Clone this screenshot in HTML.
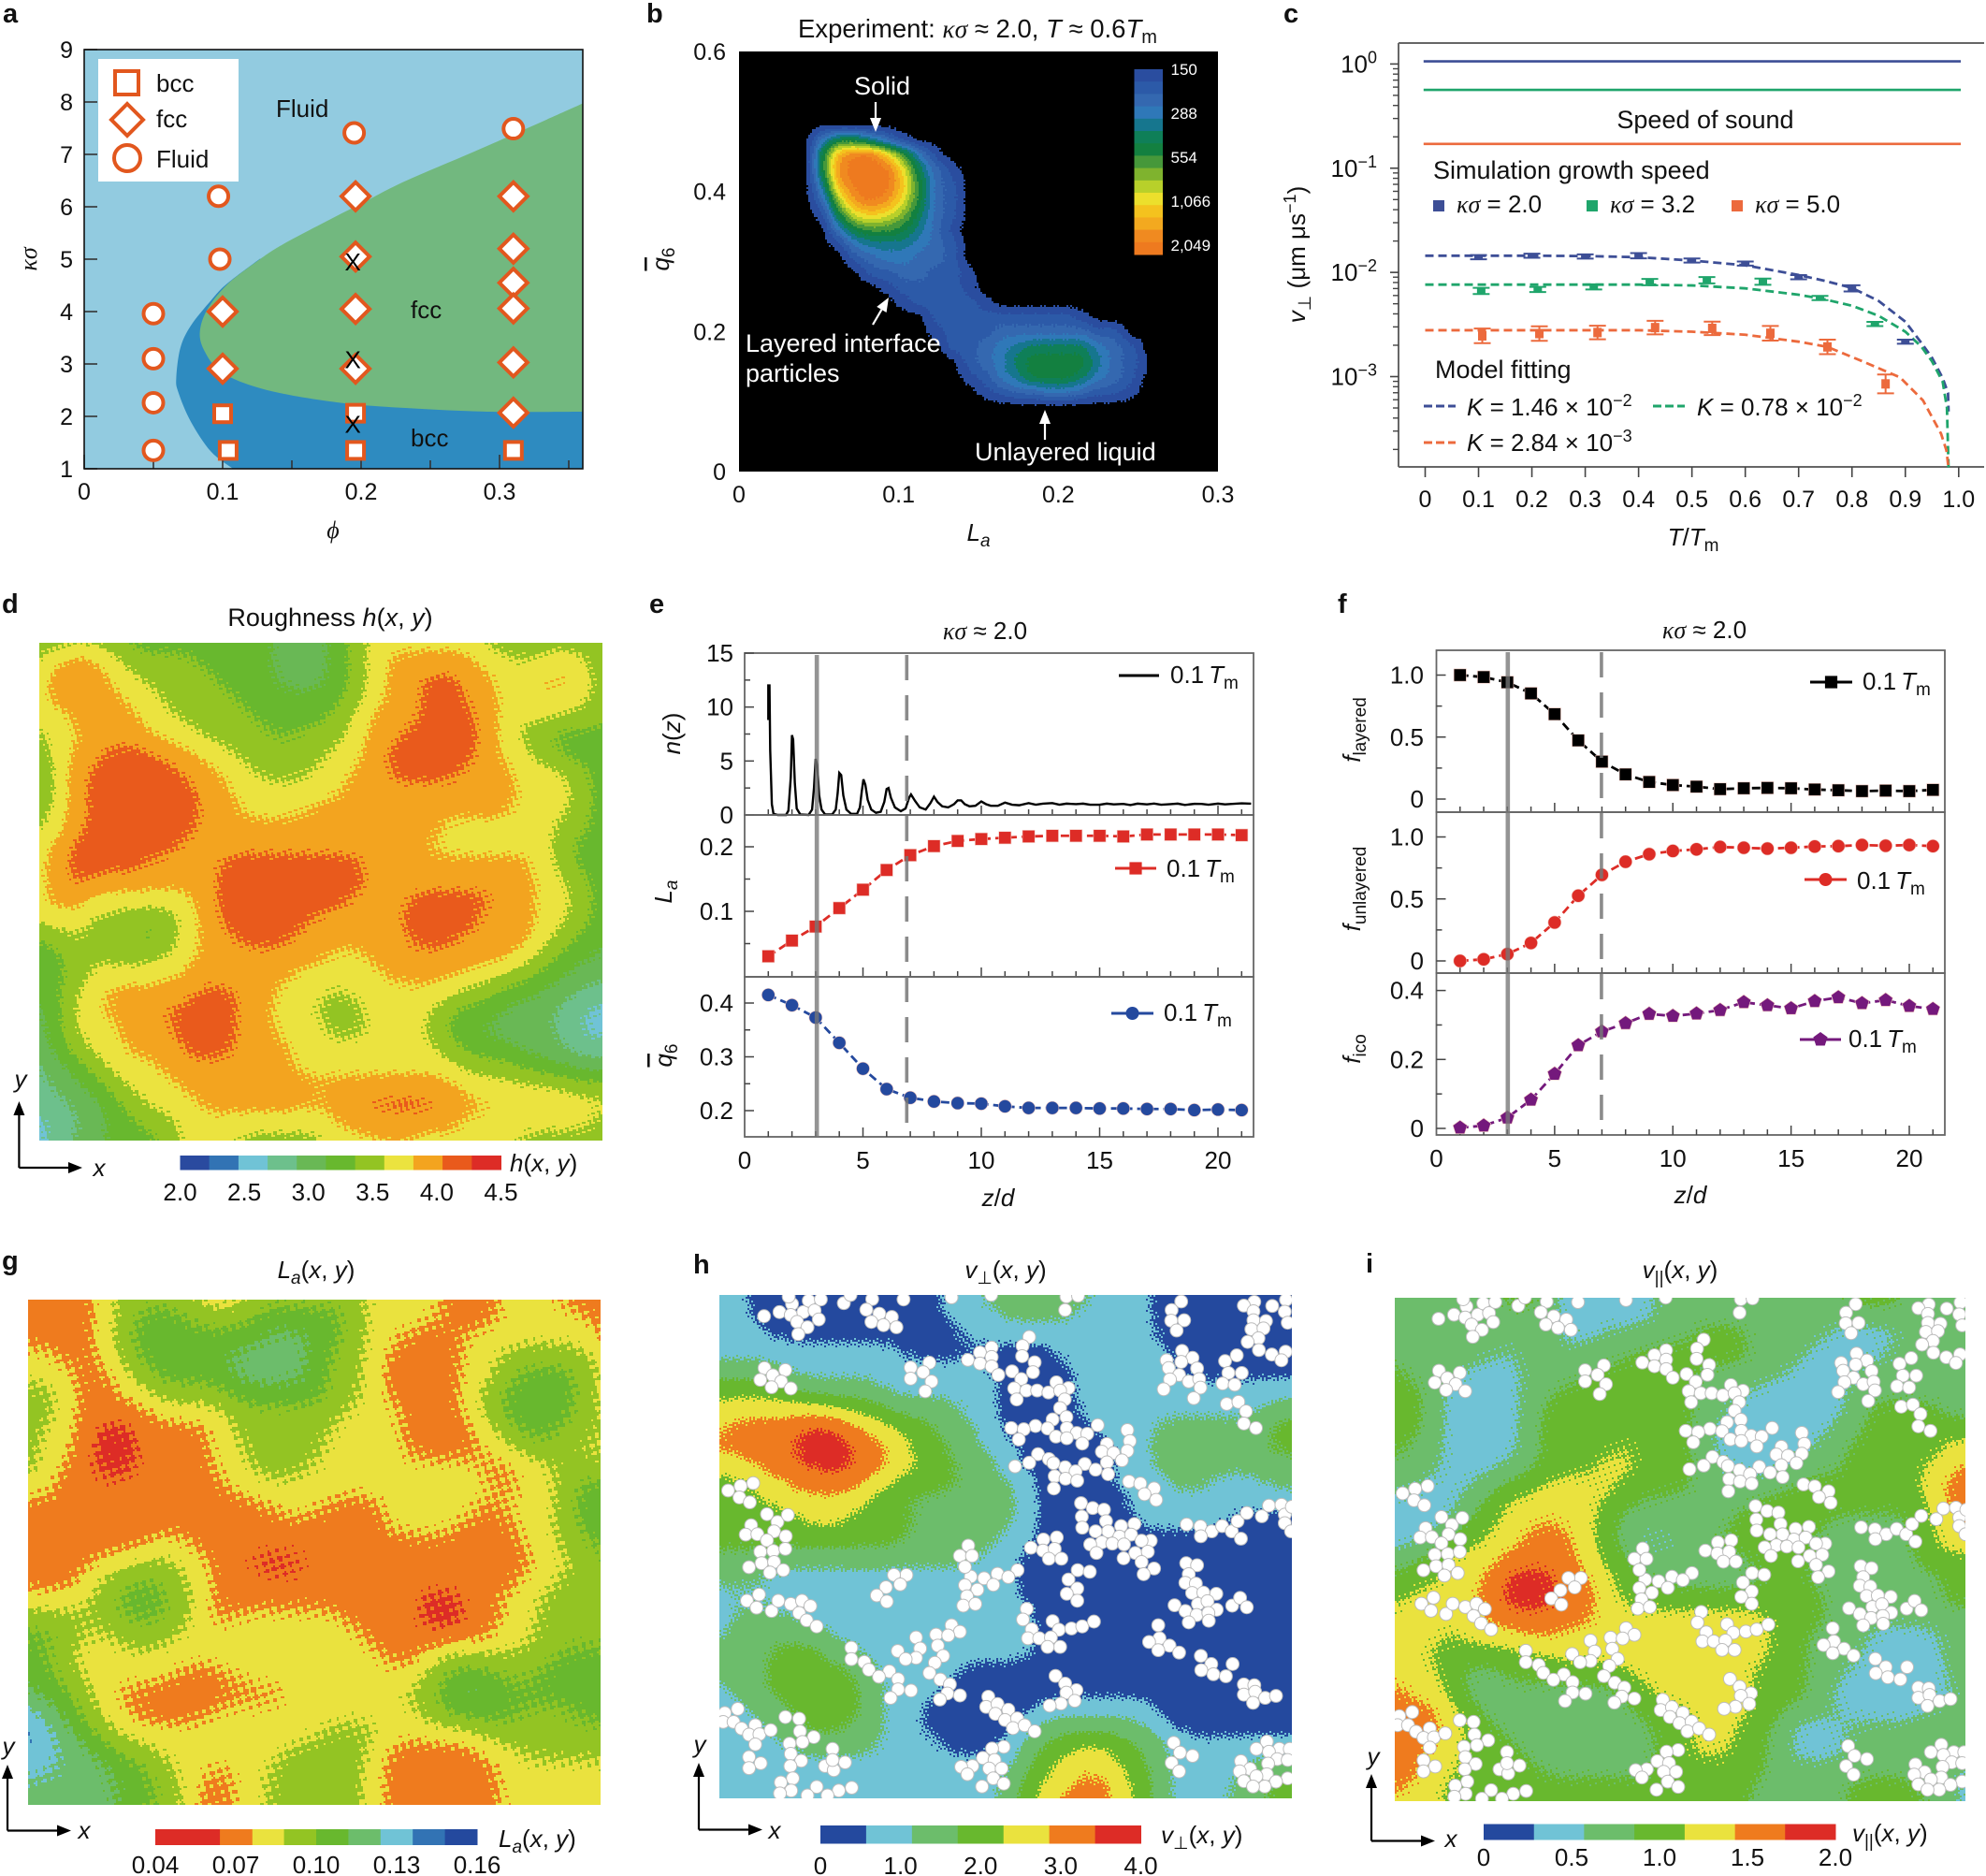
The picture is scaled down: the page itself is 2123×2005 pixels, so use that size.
<!DOCTYPE html>
<html lang="en">
<head>
<meta charset="utf-8">
<title>Interface structure and growth panels</title>
<style>
html,body{margin:0;padding:0;background:#fff;width:2123px;height:2005px;overflow:hidden}
svg{display:block;font-family:"Liberation Sans",sans-serif;fill:#111}
.it{font-style:italic}
.gr{font-family:"Liberation Serif",serif;font-style:italic}
.pl{font-weight:bold;font-size:29px}
.t26{font-size:26px}
.wh{fill:#fff}
</style>
</head>
<body>
<svg xmlns="http://www.w3.org/2000/svg" width="2123" height="2005" viewBox="0 0 2123 2005">
<defs>
<clipPath id="clip-h"><rect x="769" y="1384" width="612" height="538"/></clipPath>
<clipPath id="clip-i"><rect x="1491" y="1387" width="610" height="538"/></clipPath>
</defs>

<g>
<g id="a-marks"></g>
<rect x="105" y="63" width="150" height="131" fill="#fff"/>
<rect x="123" y="76" width="25" height="25" fill="#fff" stroke="#e2571e" stroke-width="4"/>
<polygon points="136,111 153,128 136,145 119,128" fill="#fff" stroke="#e2571e" stroke-width="4"/>
<circle cx="136" cy="169" r="14" fill="#fff" stroke="#e2571e" stroke-width="4"/>
<text x="167" y="98" class="t26">bcc</text>
<text x="167" y="136" class="t26">fcc</text>
<text x="167" y="179" class="t26">Fluid</text>
<text x="295" y="125" class="t26">Fluid</text>
<text x="439" y="340" class="t26">fcc</text>
<text x="439" y="477" class="t26">bcc</text>
<text x="356" y="575" text-anchor="middle" class="gr t26">ϕ</text>
<text x="39" y="277" text-anchor="middle" transform="rotate(-90 39 277)" class="gr t26">κσ</text>
<text x="3" y="24" class="pl">a</text>
</g>

<g>
<rect x="790" y="55" width="512" height="449" fill="#000"/>
<g id="b-marks"></g>
<text x="853" y="40" font-size="27.5">Experiment: <tspan class="gr">κσ</tspan> ≈ 2.0, <tspan class="it">T</tspan> ≈ 0.6<tspan class="it">T</tspan><tspan font-size="20" dy="6">m</tspan></text>
<text x="913" y="101" class="wh" font-size="27">Solid</text>
<text x="797" y="376" class="wh" font-size="27">Layered interface</text>
<text x="797" y="408" class="wh" font-size="27">particles</text>
<text x="1042" y="492" class="wh" font-size="27">Unlayered liquid</text>
<text x="1046" y="578" text-anchor="middle" class="t26"><tspan class="it">L</tspan><tspan class="it" font-size="19" dy="6">a</tspan></text>
<text x="715" y="277" text-anchor="middle" transform="rotate(-90 715 277)" class="t26"><tspan class="it" style="text-decoration:overline">q</tspan><tspan font-size="19" dy="6">6</tspan></text>
<text x="691" y="24" class="pl">b</text>
</g>

<g>
<g id="c-marks"></g>
<text x="1823" y="137" text-anchor="middle" font-size="27">Speed of sound</text>
<text x="1532" y="191" font-size="27">Simulation growth speed</text>
<text x="1557" y="227" class="t26"><tspan class="gr">κσ</tspan> = 2.0</text>
<text x="1721" y="227" class="t26"><tspan class="gr">κσ</tspan> = 3.2</text>
<text x="1876" y="227" class="t26"><tspan class="gr">κσ</tspan> = 5.0</text>
<rect x="1532" y="214" width="12" height="12" fill="#3d4e96"/>
<rect x="1696" y="214" width="12" height="12" fill="#1fa56b"/>
<rect x="1851" y="214" width="12" height="12" fill="#ec6a3d"/>
<text x="1534" y="404" font-size="27">Model fitting</text>
<line x1="1522" y1="434" x2="1556" y2="434" stroke="#3d4e96" stroke-width="3" stroke-dasharray="9 4"/>
<line x1="1767" y1="434" x2="1801" y2="434" stroke="#1fa56b" stroke-width="3" stroke-dasharray="9 4"/>
<line x1="1522" y1="473" x2="1556" y2="473" stroke="#ec6a3d" stroke-width="3" stroke-dasharray="9 4"/>
<text x="1568" y="444" class="t26"><tspan class="it">K</tspan> = 1.46 × 10<tspan font-size="18" dy="-10">−2</tspan></text>
<text x="1814" y="444" class="t26"><tspan class="it">K</tspan> = 0.78 × 10<tspan font-size="18" dy="-10">−2</tspan></text>
<text x="1568" y="482" class="t26"><tspan class="it">K</tspan> = 2.84 × 10<tspan font-size="18" dy="-10">−3</tspan></text>
<text x="1810" y="583" text-anchor="middle" class="t26"><tspan class="it">T</tspan>/<tspan class="it">T</tspan><tspan font-size="19" dy="6">m</tspan></text>
<text x="1395" y="272" text-anchor="middle" transform="rotate(-90 1395 272)" class="t26"><tspan class="it">v</tspan><tspan font-size="19" dy="6">⊥</tspan><tspan dy="-6"> (μm μs</tspan><tspan font-size="18" dy="-10">−1</tspan><tspan dy="10">)</tspan></text>
<text x="1372" y="24" class="pl">c</text>
</g>

<g>
<g id="d-marks"></g>
<text x="353" y="669" text-anchor="middle" font-size="27">Roughness <tspan class="it">h</tspan>(<tspan class="it">x</tspan>, <tspan class="it">y</tspan>)</text>
<text x="545" y="1252" class="t26"><tspan class="it">h</tspan>(<tspan class="it">x</tspan>, <tspan class="it">y</tspan>)</text>
<text x="22" y="1162" text-anchor="middle" class="it t26">y</text>
<text x="106" y="1257" text-anchor="middle" class="it t26">x</text>
<text x="2" y="655" class="pl">d</text>
</g>

<g>
<g id="e-marks"></g>
<text x="1053" y="683" text-anchor="middle" class="t26"><tspan class="gr">κσ</tspan> ≈ 2.0</text>
<text x="1067" y="1289" text-anchor="middle" class="t26"><tspan class="it">z</tspan>/<tspan class="it">d</tspan></text>
<text x="727" y="784" text-anchor="middle" transform="rotate(-90 727 784)" class="t26"><tspan class="it">n</tspan>(<tspan class="it">z</tspan>)</text>
<text x="718" y="953" text-anchor="middle" transform="rotate(-90 718 953)" class="t26"><tspan class="it">L</tspan><tspan class="it" font-size="19" dy="6">a</tspan></text>
<text x="718" y="1128" text-anchor="middle" transform="rotate(-90 718 1128)" class="t26"><tspan class="it" style="text-decoration:overline">q</tspan><tspan font-size="19" dy="6">6</tspan></text>
<text x="1251" y="730" class="t26">0.1<tspan class="it" dx="5">T</tspan><tspan font-size="19" dy="6">m</tspan></text>
<text x="1247" y="937" class="t26">0.1<tspan class="it" dx="5">T</tspan><tspan font-size="19" dy="6">m</tspan></text>
<text x="1244" y="1091" class="t26">0.1<tspan class="it" dx="5">T</tspan><tspan font-size="19" dy="6">m</tspan></text>
<text x="694" y="655" class="pl">e</text>
</g>

<g>
<g id="f-marks"></g>
<text x="1822" y="682" text-anchor="middle" class="t26"><tspan class="gr">κσ</tspan> ≈ 2.0</text>
<text x="1807" y="1286" text-anchor="middle" class="t26"><tspan class="it">z</tspan>/<tspan class="it">d</tspan></text>
<text x="1454" y="780" text-anchor="middle" transform="rotate(-90 1454 780)" class="t26"><tspan class="it">f</tspan><tspan font-size="19" dy="6">layered</tspan></text>
<text x="1454" y="950" text-anchor="middle" transform="rotate(-90 1454 950)" class="t26"><tspan class="it">f</tspan><tspan font-size="19" dy="6">unlayered</tspan></text>
<text x="1454" y="1121" text-anchor="middle" transform="rotate(-90 1454 1121)" class="t26"><tspan class="it">f</tspan><tspan font-size="19" dy="6">ico</tspan></text>
<text x="1991" y="737" class="t26">0.1<tspan class="it" dx="5">T</tspan><tspan font-size="19" dy="6">m</tspan></text>
<text x="1985" y="950" class="t26">0.1<tspan class="it" dx="5">T</tspan><tspan font-size="19" dy="6">m</tspan></text>
<text x="1976" y="1119" class="t26">0.1<tspan class="it" dx="5">T</tspan><tspan font-size="19" dy="6">m</tspan></text>
<text x="1430" y="655" class="pl">f</text>
</g>

<g>
<g id="g-marks"></g>
<text x="338" y="1366" text-anchor="middle" class="t26"><tspan class="it">L</tspan><tspan class="it" font-size="19" dy="6">a</tspan><tspan dy="-6">(</tspan><tspan class="it">x</tspan>, <tspan class="it">y</tspan>)</text>
<text x="533" y="1974" class="t26"><tspan class="it">L</tspan><tspan class="it" font-size="19" dy="6">a</tspan><tspan dy="-6">(</tspan><tspan class="it">x</tspan>, <tspan class="it">y</tspan>)</text>
<text x="9" y="1875" text-anchor="middle" class="it t26">y</text>
<text x="90" y="1965" text-anchor="middle" class="it t26">x</text>
<text x="2" y="1357" class="pl">g</text>
</g>

<g>
<g id="h-marks"></g>
<text x="1075" y="1366" text-anchor="middle" class="t26"><tspan class="it">v</tspan><tspan font-size="19" dy="6">⊥</tspan><tspan dy="-6">(</tspan><tspan class="it">x</tspan>, <tspan class="it">y</tspan>)</text>
<text x="1241" y="1970" class="t26"><tspan class="it">v</tspan><tspan font-size="19" dy="6">⊥</tspan><tspan dy="-6">(</tspan><tspan class="it">x</tspan>, <tspan class="it">y</tspan>)</text>
<text x="748" y="1873" text-anchor="middle" class="it t26">y</text>
<text x="828" y="1965" text-anchor="middle" class="it t26">x</text>
<text x="741" y="1361" class="pl">h</text>
</g>

<g>
<g id="i-marks"></g>
<text x="1796" y="1366" text-anchor="middle" class="t26"><tspan class="it">v</tspan><tspan font-size="19" dy="6">||</tspan><tspan dy="-6">(</tspan><tspan class="it">x</tspan>, <tspan class="it">y</tspan>)</text>
<text x="1980" y="1968" class="t26"><tspan class="it">v</tspan><tspan font-size="19" dy="6">||</tspan><tspan dy="-6">(</tspan><tspan class="it">x</tspan>, <tspan class="it">y</tspan>)</text>
<text x="1468" y="1886" text-anchor="middle" class="it t26">y</text>
<text x="1551" y="1974" text-anchor="middle" class="it t26">x</text>
<text x="1460" y="1360" class="pl">i</text>
</g>
</svg>

<script>
/* ---------- panel a data ---------- */
const phiTicks=[0,0.1,0.2,0.3];
const phiTickLabels=["0","0.1","0.2","0.3"];
const phiMinorTicks=[0.05,0.15,0.25,0.35];
const kappaTicks=[1,2,3,4,5,6,7,8,9];
const fccPhi=[0.36,0.291,0.232,0.203,0.174,0.144,0.127,0.103,0.0885,0.0835,0.087,0.097,0.115,0.144,0.188,0.232,0.291,0.36];
const fccKappa=[7.97,7.16,6.49,6.10,5.71,5.29,5.00,4.51,4.02,3.59,3.24,2.89,2.64,2.43,2.25,2.16,2.09,2.09];
const bccPhi=[0.127,0.103,0.0915,0.077,0.0695,0.0665,0.068,0.077,0.0915,0.1075];
const bccKappa=[5.01,4.53,4.21,3.73,3.31,2.74,2.46,1.90,1.33,1.0];
const fluidPhi=[0.05,0.05,0.05,0.05,0.097,0.098,0.195,0.31];
const fluidKappa=[3.96,3.10,2.26,1.35,6.20,5.00,7.41,7.49];
const fccPointPhi=[0.10,0.10,0.196,0.196,0.196,0.196,0.31,0.31,0.31,0.31,0.31,0.31];
const fccPointKappa=[4.00,2.91,6.20,5.05,4.05,2.91,6.20,5.20,4.55,4.06,3.03,2.07];
const bccPointPhi=[0.10,0.104,0.196,0.196,0.31];
const bccPointKappa=[2.05,1.35,2.06,1.35,1.35];
const crossPhi=[0.194,0.194,0.194];
const crossKappa=[4.95,3.08,1.85];

/* ---------- panel b data ---------- */
const laTicks=[0,0.1,0.2,0.3];
const laTickLabels=["0","0.1","0.2","0.3"];
const q6Ticks=[0,0.2,0.4,0.6];
const q6TickLabels=["0","0.2","0.4","0.6"];
const densityColors=["#000000","#2a4d9f","#2c5aa8","#3468b0","#2f78b8","#16768e","#0f7f58","#138040","#46983a","#7fb32e","#b8d02a","#ecdf2c","#f4c21e","#f3a91f","#f08a20","#ee7a1f"];
const densityLabels=["150","288","554","1,066","2,049"];
const densityGrid=[
"0000000000000000000000",
"0477531000000000000000",
"07dffc8410000000000000",
"07efffb631000000000000",
"05dfffc732000000000000",
"03aefeb732000000000000",
"017bcb9632000000000000",
"0047887531000000000000",
"0014555432000000000000",
"0002344332000000000000",
"0000223322100000000000",
"0000012222100000000000",
"0000001222210000000000",
"0000000022222222210000",
"0000000012223333332200",
"0000000002234566664320",
"0000000000234677775321",
"0000000000124577764320",
"0000000000012334432210",
"0000000000000000000000"];

/* ---------- panel c data ---------- */
const tempTicks=[0,0.1,0.2,0.3,0.4,0.5,0.6,0.7,0.8,0.9,1.0];
const tempTickLabels=["0","0.1","0.2","0.3","0.4","0.5","0.6","0.7","0.8","0.9","1.0"];
const logSpeedTicks=[0,-1,-2,-3];
const soundSpeeds=[1.06,0.565,0.171];
const blueT=[0.1,0.2,0.3,0.4,0.5,0.6,0.7,0.8,0.9];
const blueLogV=[-1.854,-1.84,-1.847,-1.84,-1.886,-1.915,-2.046,-2.153,-2.665];
const blueErr=[0.02,0.02,0.02,0.025,0.02,0.02,0.02,0.03,0.02];
const greenT=[0.105,0.211,0.316,0.421,0.528,0.633,0.74,0.843];
const greenLogV=[-2.178,-2.164,-2.139,-2.093,-2.075,-2.089,-2.246,-2.495];
const greenErr=[0.03,0.025,0.025,0.03,0.03,0.03,0.02,0.02];
const orangeT=[0.107,0.214,0.323,0.431,0.538,0.647,0.754,0.863];
const orangeLogV=[-2.609,-2.587,-2.577,-2.53,-2.537,-2.584,-2.715,-3.07];
const orangeErr=[0.07,0.07,0.065,0.065,0.065,0.07,0.07,0.09];
const blueFitT=[0,0.1,0.2,0.3,0.4,0.5,0.6,0.7,0.75,0.8,0.85,0.9,0.93,0.95,0.97,0.98,0.981];
const blueFitLog=[-1.84,-1.84,-1.84,-1.843,-1.854,-1.886,-1.932,-2.025,-2.082,-2.149,-2.274,-2.473,-2.676,-2.819,-3.014,-3.157,-3.335];
const greenFitT=[0,0.1,0.2,0.3,0.4,0.5,0.6,0.7,0.75,0.8,0.85,0.9,0.93,0.95,0.97,0.978,0.981];
const greenFitLog=[-2.117,-2.117,-2.117,-2.117,-2.117,-2.125,-2.153,-2.214,-2.26,-2.32,-2.416,-2.569,-2.712,-2.854,-3.05,-3.299,-3.879];
const orangeFitT=[0,0.1,0.2,0.3,0.4,0.5,0.6,0.7,0.754,0.82,0.89,0.933,0.967,0.977,0.981];
const orangeFitLog=[-2.555,-2.555,-2.555,-2.555,-2.555,-2.569,-2.598,-2.665,-2.715,-2.854,-3.007,-3.228,-3.548,-3.708,-3.879];

/* ---------- panels e, f data ---------- */
const layerZ=[1,2,3,4,5,6,7,8,9,10,11,12,13,14,15,16,17,18,19,20,21];
const zTicks=[0,5,10,15,20];
const zTickLabels=["0","5","10","15","20"];
const nzZ=[1.0,1.0,1.05,1.08,1.15,1.22,1.4,1.75,1.85,1.95,2.0,2.05,2.12,2.2,2.35,2.7,2.85,2.93,3.0,3.07,3.15,3.25,3.4,3.7,3.85,3.93,4.0,4.08,4.17,4.3,4.5,4.75,4.87,4.95,5.02,5.1,5.2,5.35,5.55,5.75,5.9,6.0,6.08,6.18,6.35,6.6,6.8,6.95,7.03,7.2,7.4,7.65,7.85,8.0,8.15,8.35,8.6,8.85,9.0,9.15,9.3,9.5,9.75,10,10.2,10.4,10.7,11,11.3,11.6,12,12.3,12.6,13,13.3,13.6,14,14.3,14.6,15,15.3,15.6,16,16.3,16.6,17,17.3,17.6,18,18.3,18.6,19,19.3,19.6,20,20.3,20.6,21,21.4];
const nzN=[8.8,12,12,6,1,0.1,0,0,0.4,3.5,7.4,7,3,0.6,0.05,0,0.5,2.5,5.2,4.6,1.8,0.5,0.05,0.05,0.5,2,3.9,3.7,1.8,0.5,0.1,0.1,0.7,2.2,3.3,2.8,1.4,0.5,0.2,0.3,1.2,2.4,2.5,1.6,0.7,0.35,0.6,1.6,1.9,1.3,0.7,0.5,1.1,1.7,1.2,0.8,0.7,1,1.35,1.35,1,0.8,0.85,1.25,1,0.85,0.85,1.15,0.95,0.9,1.1,0.95,1.05,1.1,0.95,1.05,1,1.05,0.95,0.95,1.05,0.98,1.02,0.92,1.05,0.98,1.06,0.95,1,1.05,0.93,1.03,1.02,0.95,1.05,0.98,1.02,1.08,1.05];
const nzTicks=[0,5,10,15];
const nzTickLabels=["0","5","10","15"];
const nzMinor=[2.5,7.5,12.5];
const laValues=[0.0304,0.0547,0.0764,0.105,0.1335,0.164,0.187,0.201,0.209,0.212,0.214,0.216,0.217,0.217,0.217,0.216,0.219,0.219,0.219,0.219,0.218];
const laSeriesTicks=[0.1,0.2];
const laSeriesLabels=["0.1","0.2"];
const laMinor=[0.05,0.15];
const q6Values=[0.415,0.396,0.373,0.326,0.278,0.24,0.224,0.217,0.214,0.213,0.208,0.205,0.205,0.205,0.204,0.204,0.203,0.203,0.201,0.202,0.201];
const q6SeriesTicks=[0.2,0.3,0.4];
const q6SeriesLabels=["0.2","0.3","0.4"];
const q6Minor=[0.25,0.35];
const fLayered=[1.0,0.984,0.942,0.852,0.685,0.473,0.302,0.199,0.138,0.113,0.1,0.08,0.087,0.09,0.087,0.077,0.071,0.064,0.068,0.064,0.074];
const fUnlayered=[0,0.013,0.055,0.145,0.31,0.526,0.694,0.8,0.861,0.887,0.9,0.919,0.913,0.906,0.913,0.923,0.926,0.935,0.929,0.935,0.926];
const fIco=[0.002,0.008,0.031,0.083,0.158,0.241,0.281,0.305,0.332,0.326,0.333,0.343,0.366,0.357,0.348,0.369,0.38,0.363,0.372,0.355,0.346];
const fracTicks=[0,0.5,1.0];
const fracTickLabels=["0","0.5","1.0"];
const fracMinor=[0.25,0.75];
const icoTicks=[0,0.2,0.4];
const icoTickLabels=["0","0.2","0.4"];
const icoMinor=[0.1,0.3];

/* ---------- heatmap contour levels ---------- */
const bandD=["#2a4a9f","#3273b4","#70c3d6","#6dc08c","#69b855","#68b82e","#93c423","#ebe33f","#f3a41f","#e95a1c","#dd2c26"];
const bandG=["#dd2c26","#ef7b1e","#eae23e","#93c423","#68b82e","#6cbd6b","#70c3d6","#3273b4","#24499e"];
const bandV=["#24499e","#70c3d6","#6cbd6b","#68b82e","#eae23e","#ef7b1e","#dd2c26"];
const roughnessLevels=[
"6666655555555444567777776666666",
"6888766665555444567888887767776",
"7898776666555444567889988778876",
"7888877666655555567889988777776",
"7788887766665555678889998777766",
"6778887776666566678899998765555",
"6788999887766666778999998776555",
"5789999988776667788999988877765",
"5789999998877777788888888877765",
"6789999998877778888888888877765",
"6789999998888888888888777777665",
"7899999988888888888887777777655",
"7899998888999999998888888887655",
"7898888888999999998888888887765",
"7887777778999999988899999887765",
"7776665678999998888899998887765",
"5676665678899988888899988887655",
"5566666778888888778888888876554",
"5567777788888877777888877665544",
"5577888889988777677777766554433",
"4577888999988776667777555444332",
"4577788899988777667776554444322",
"4567788899988877777777655544433",
"3456777888888877777777766655444",
"3445677788888888888888877777766",
"3344567778888887889999888777777",
"2334556677777777888888877777776",
"2344555677766666777877777766666"];
const laLevels=[
"1111233332223333332222111222111",
"1111234443334444432222111222221",
"1111234444444554432211122222221",
"2211234444455554332111122333332",
"2221123444455554332111122344432",
"3321122333344444332111123444432",
"3321111222233333322211123444432",
"3221001111233333222211112344333",
"3221001111223333222211112233322",
"3211001111223332222222221122333",
"2211111111122222222222222122344",
"1111111111111222111222221222344",
"1111111111111111111222211122344",
"1111111221111111111111111122334",
"1111223322110001111111111112233",
"1112334332111111111111111122333",
"2222344432111111111110011223333",
"3333334332122222211110011223333",
"4432233322222222221111111223333",
"4332222222222222222112333333444",
"4432222211122222222223444334444",
"5443211111111122222233454444444",
"6543221111222222222223444433344",
"7654322222222222333222223333333",
"6655433222222233332111112233333",
"6655544322122333332111111222222",
"5555544331122333332111111222222",
"5555544331122333332111111222222"];
const vPerpLevels=[
"1100000000001122222211100000000",
"1100000000001112222111100000000",
"1110000000000111111111100000000",
"1111111111000000001111110000000",
"2222111111111110000111110000000",
"3333222221111110000111111111111",
"4444443332222110000111111111122",
"4555566544332210000011122222233",
"5555666554332211000001122222233",
"4455566655433221000001122222222",
"3344555543333222100001112211122",
"3334444433222222100000111111111",
"3333344333322222100000111110000",
"3333333333222221100000000000000",
"2222222222222211000000000000000",
"2221111111111111000000000000000",
"1111111111111111000000000000000",
"1222111111111111100000000000000",
"1222221111111111100000000000000",
"2223332211111111100000000000000",
"2223333221111000000000000000000",
"1223333321110000000000000000000",
"1122333321100000011111100000000",
"1112233221100000122222210000000",
"1111222221110001233443221111111",
"1111111111111111234443321111222",
"1111111111111112344554321112233",
"1111111111111112345554321112233"];
const vParallelLevels=[
"2222223321111122222222223332222",
"2222222221111122222222222222222",
"2222222221122222333222211112222",
"2222221222222333333222111122222",
"3222111222233333222221112222222",
"3321111223333333222111112222222",
"3321111233333333221111112333322",
"3321111233333333211111122333333",
"3221111233334333211111223333344",
"2221112233344333221112223333445",
"2211223344443333222223333333455",
"1111234444433222222333333333455",
"1112334454432222223333322222345",
"1123344555432112233333222223444",
"2334445555433222222333222222333",
"3334456665543322222233222222233",
"3444456665543333333333322222233",
"4444455555544444444433322222222",
"4443444554444444444433222111122",
"4433333334444444444433222111122",
"4443223333333444444333221111122",
"5443222222223344444333211111112",
"5554322222222333444332221111222",
"5554332222222233443321112222222",
"5544333222222233443321112222222",
"5544333322222233333322222222221",
"5443333333333333333222223333221",
"4443333333333333333222223333221"];

/* panels h and i show the same interface particles, in simulation-box units */
const interfaceParticles=[[216,198],[253,188],[283,168],[280,195],[310,188],[323,160],[337,184],[347,206],[295,212],[320,225],[298,242],[352,157],[275,150],[407,166],[423,146],[475,156],[550,157],[461,182],[492,192],[522,200],[473,212],[502,220],[533,225],[665,152],[760,146],[937,183],[940,150],[968,148],[1215,162],[1192,183],[1222,208],[1191,209],[1204,233],[1390,163],[1365,172],[1433,173],[1466,158],[1388,186],[1463,187],[1388,208],[1418,210],[1470,214],[1383,230],[1412,228],[1400,252],[1374,261],[1401,281],[1432,292],[1465,285],[1455,306],[851,249],[835,271],[761,275],[733,287],[834,296],[704,305],[733,314],[761,298],[761,321],[864,311],[777,342],[810,333],[860,335],[832,352],[815,375],[844,380],[870,380],[897,385],[916,360],[945,374],[925,380],[821,402],[936,402],[217,325],[267,330],[237,343],[207,354],[257,358],[234,372],[280,375],[612,312],[567,324],[597,335],[567,351],[617,358],[602,382],[1217,283],[1242,300],[1215,310],[1180,306],[1348,294],[1320,308],[1185,325],[1253,326],[1210,342],[1188,353],[1328,337],[1360,337],[1233,358],[1258,352],[1173,377],[1314,363],[1343,366],[1261,373],[1245,399],[1324,413],[1352,408],[1370,431],[1365,461],[1394,472],[925,423],[907,451],[940,445],[808,472],[866,467],[838,475],[895,473],[941,472],[1015,465],[1086,477],[965,484],[990,486],[915,493],[941,497],[826,500],[978,510],[1092,504],[1037,511],[1025,530],[1053,533],[1086,528],[1073,551],[872,536],[851,557],[898,548],[817,566],[984,560],[937,568],[909,558],[962,578],[1010,574],[1037,556],[912,590],[938,596],[966,601],[1040,585],[910,620],[1090,603],[1117,608],[1150,620],[1127,634],[1155,648],[975,656],[1003,668],[1030,672],[977,689],[1035,700],[1103,707],[1071,712],[978,716],[1040,725],[1010,725],[1067,738],[1095,733],[1142,748],[1120,748],[1025,752],[1050,755],[997,757],[1078,757],[1012,778],[1105,778],[1135,775],[1077,791],[1120,800],[1150,816],[1125,830],[1228,708],[1261,713],[1288,725],[1313,712],[1336,725],[1350,700],[1372,680],[1408,688],[1425,662],[1455,660],[1463,684],[1463,705],[1262,737],[1358,743],[1480,665],[1478,725],[223,683],[248,702],[273,685],[185,710],[240,725],[172,733],[200,732],[223,747],[268,737],[207,775],[238,773],[267,768],[210,803],[240,800],[180,813],[230,826],[262,820],[190,607],[160,614],[130,625],[157,642],[182,654],[917,740],[885,745],[855,765],[884,772],[912,768],[898,792],[928,792],[705,760],[685,785],[714,785],[711,836],[697,812],[743,840],[775,829],[823,820],[801,837],[765,856],[697,857],[727,868],[702,884],[693,907],[722,903],[557,832],[527,832],[542,855],[508,862],[486,882],[510,897],[967,820],[996,824],[945,843],[966,865],[941,878],[966,895],[1227,803],[1253,808],[1233,830],[1225,851],[1250,853],[1241,876],[1268,875],[1299,878],[1255,903],[1278,896],[1300,917],[1199,906],[1225,920],[1252,930],[1280,925],[1233,948],[1281,944],[1337,907],[1356,888],[1372,911],[175,895],[204,880],[198,912],[234,920],[250,895],[280,903],[307,895],[327,908],[300,925],[318,943],[342,958],[845,915],[836,941],[907,945],[857,965],[922,966],[952,963],[978,958],[1006,946],[1160,955],[848,987],[875,987],[903,985],[925,1008],[895,1008],[1163,987],[1138,996],[1187,1005],[1160,1016],[1210,1022],[665,955],[685,971],[628,978],[657,980],[580,985],[632,1005],[590,1012],[536,1018],[645,1030],[580,1035],[555,1038],[625,1047],[612,1072],[638,1088],[425,1010],[425,1038],[456,1045],[467,1064],[516,1068],[491,1081],[537,1087],[537,1112],[519,1133],[568,1115],[1262,1030],[1287,1050],[1338,1050],[1263,1065],[1292,1075],[1322,1080],[914,1079],[937,1098],[964,1114],[940,1120],[661,1100],[655,1122],[685,1127],[637,1137],[960,1140],[927,1147],[900,1152],[1365,1100],[1390,1102],[1365,1125],[1392,1118],[1416,1133],[1442,1128],[1387,1145],[753,1130],[748,1155],[775,1148],[770,1172],[801,1162],[793,1187],[822,1183],[812,1207],[840,1200],[864,1215],[122,1170],[153,1160],[118,1192],[143,1192],[162,1208],[195,1200],[180,1223],[205,1222],[232,1212],[267,1180],[300,1184],[302,1215],[335,1229],[308,1241],[195,1247],[1197,1243],[1212,1267],[1242,1275],[1192,1292],[1210,1313],[1420,1240],[1395,1258],[1450,1258],[1425,1265],[1475,1258],[1445,1283],[1470,1285],[1358,1288],[1423,1294],[1380,1307],[1355,1313],[1420,1320],[1395,1325],[1365,1337],[1470,1330],[1442,1338],[1415,1350],[1387,1350],[790,1253],[762,1257],[740,1280],[768,1285],[715,1300],[688,1302],[755,1306],[785,1306],[703,1320],[765,1330],[790,1343],[738,1350],[277,1245],[180,1278],[280,1270],[305,1287],[208,1293],[180,1305],[380,1258],[362,1300],[383,1310],[410,1291],[380,1285],[279,1300],[285,1330],[256,1340],[281,1360],[254,1367],[342,1351],[395,1360],[426,1353],[320,1372],[368,1372]];

const dTickValues=[2.0,2.5,3.0,3.5,4.0,4.5];
const dTickLabels=["2.0","2.5","3.0","3.5","4.0","4.5"];
const dBandEdges=[2.0,2.227,2.455,2.682,2.909,3.136,3.364,3.591,3.818,4.045,4.273,4.5];
const gTickValues=[0.04,0.07,0.10,0.13,0.16];
const gTickLabels=["0.04","0.07","0.10","0.13","0.16"];
const gBandEdges=[0.04,0.0641,0.0762,0.088,0.1,0.112,0.124,0.136,0.148,0.16];
const hTickValues=[0,1,2,3,4];
const hTickLabels=["0","1.0","2.0","3.0","4.0"];
const hBandEdges=[0,0.571,1.143,1.714,2.286,2.857,3.429,4];
const iTickValues=[0,0.5,1,1.5,2];
const iTickLabels=["0","0.5","1.0","1.5","2.0"];
const iBandEdges=[0,0.286,0.571,0.857,1.143,1.429,1.714,2];

/* ---------- helpers ---------- */
const NS="http://www.w3.org/2000/svg";
const $=id=>document.getElementById(id);
const linear=(d0,d1,r0,r1)=>v=>r0+(v-d0)/(d1-d0)*(r1-r0);
function mk(parent,tag,attrs,name){
  const el=document.createElementNS(NS,tag);
  for(const k in attrs) el.setAttribute(k,attrs[k]);
  
  
  parent.appendChild(el);
  return el;
}
function seg(p,x1,y1,x2,y2,stroke,w,name){return mk(p,'line',{x1,y1,x2,y2,stroke,'stroke-width':w},name);}
function label(p,x,y,str,anchor,size,name,fill){
  const t=mk(p,'text',{x,y,'text-anchor':anchor,'font-size':size,fill:fill||'#111'},name);
  t.textContent=str;return t;
}
function smooth(pts){
  let d=`M${pts[0][0]} ${pts[0][1]}`;
  for(let i=0;i<pts.length-1;i++){
    const p0=pts[Math.max(i-1,0)],p1=pts[i],p2=pts[i+1],p3=pts[Math.min(i+2,pts.length-1)];
    d+=`C${p1[0]+(p2[0]-p0[0])/6} ${p1[1]+(p2[1]-p0[1])/6} ${p2[0]-(p3[0]-p1[0])/6} ${p2[1]-(p3[1]-p1[1])/6} ${p2[0]} ${p2[1]}`;
  }
  return d;
}
function arrow(p,x1,y1,x2,y2,color,name){
  const a=Math.atan2(y2-y1,x2-x1),L=15,W=6;
  const bx=x2-L*Math.cos(a),by=y2-L*Math.sin(a);
  seg(p,x1,y1,bx,by,color,2.2,name+'-shaft');
  mk(p,'polygon',{points:`${x2},${y2} ${bx-W*Math.sin(a)},${by+W*Math.cos(a)} ${bx+W*Math.sin(a)},${by-W*Math.cos(a)}`,fill:color},name+'-head');
}
function marker(p,kind,cx,cy,size,fill,stroke,sw,name){
  if(kind==='square') return mk(p,'rect',{x:cx-size,y:cy-size,width:2*size,height:2*size,fill,stroke,'stroke-width':sw},name);
  if(kind==='circle') return mk(p,'circle',{cx,cy,r:size,fill,stroke,'stroke-width':sw},name);
  let n=kind==='diamond'?4:5,pts=[];
  for(let i=0;i<n;i++){const a=-Math.PI/2+i*2*Math.PI/n;pts.push((cx+size*Math.cos(a))+','+(cy+size*Math.sin(a)));}
  return mk(p,'polygon',{points:pts.join(' '),fill,stroke,'stroke-width':sw},name);
}
/* contour bands: level grid -> light smoothing -> spline surface -> run-length filled bands */
function renderField(prefix,parent,rows,colors,rect,spanU,spanV,amp,period,skipZero,side){
  const raw=rows.map(r=>Array.from(r,c=>parseInt(c,16)));
  const nr=raw.length;
  const rawAt=(i,j)=>{const row=raw[Math.max(0,Math.min(nr-1,i))];return row[Math.max(0,Math.min(row.length-1,j))];};
  const w=side,c0=1-2*w;
  const grid=raw.map((row,i)=>row.map((_,j)=>{
    let sum=0;
    for(let a=-1;a<=1;a++)for(let b=-1;b<=1;b++){
      sum+=(a===0?c0:w)*(b===0?c0:w)*rawAt(i+a,j+b);
    }
    return sum;
  }));
  const at=(i,j)=>{const row=grid[Math.max(0,Math.min(nr-1,i))];return row[Math.max(0,Math.min(row.length-1,j))];};
  const cr=(a,b,c,d,t)=>b+0.5*t*(c-a+t*(2*a-5*b+4*c-d+t*(3*(b-c)+d-a)));
  const runs=colors.map(()=>[]);
  const s=2,TAU=Math.PI*2;
  for(let y=rect.y0;y<rect.y1;y+=s){
    const v=(y+s/2-rect.y0)/(rect.y1-rect.y0)*spanV,i=Math.floor(v),tv=v-i;
    let cur=-1,start=rect.x0;
    for(let x=rect.x0;x<=rect.x1;x+=s){
      let lvl=-2;
      if(x<rect.x1){
        const u=(x+s/2-rect.x0)/(rect.x1-rect.x0)*spanU,j=Math.floor(u),tu=u-j;
        const col=[];
        for(let m=-1;m<=2;m++) col.push(cr(at(i+m,j-1),at(i+m,j),at(i+m,j+1),at(i+m,j+2),tu));
        let val=cr(col[0],col[1],col[2],col[3],tv);
        val+=amp*Math.sin(TAU*(x+y*0.5)/period)*Math.sin(TAU*(y-x*0.5)/period);
        lvl=Math.max(0,Math.min(colors.length-1,Math.round(val)));
      }
      if(lvl!==cur){
        if(cur>=0&&x>start) runs[cur].push(`M${start} ${y}h${x-start}v${s}h${start-x}z`);
        cur=lvl;start=x;
      }
    }
  }
  colors.forEach((c,k)=>{
    if((skipZero&&k===0)||!runs[k].length) return;
    mk(parent,'path',{d:runs[k].join(''),fill:c,'shape-rendering':'crispEdges'},prefix+'-band-'+k);
  });
}
function colorbar(prefix,p,edges,colors,ticks,tickLabels,x0,x1,y0,y1,baseline){
  const sx=linear(edges[0],edges[edges.length-1],x0,x1);
  colors.forEach((c,k)=>{
    mk(p,'rect',{x:sx(edges[k]),y:y0,width:sx(edges[k+1])-sx(edges[k])+0.5,height:y1-y0,fill:c},prefix+'-colorbar-band-'+k);
  });
  ticks.forEach((v,k)=>label(p,sx(v),baseline,tickLabels[k],'middle',26,prefix+'-colorbar-tick-'+tickLabels[k]));
}
function axisArrows(prefix,p,ox,oy,topY,endX){
  arrow(p,ox,oy,ox,topY,'#000',prefix+'-y-arrow');
  arrow(p,ox,oy,endX,oy,'#000',prefix+'-x-arrow');
}

/* ---------- panel a ---------- */
(function(){
  const g=$('a-marks');
  const x=linear(0,0.3,90,534),y=linear(1,9,501,53);
  mk(g,'rect',{x:90,y:53,width:533,height:448,fill:'#92cbe0'},'fluid-region');
  const bcc=bccPhi.map((p,i)=>[x(p),y(bccKappa[i])]);
  mk(g,'path',{d:smooth(bcc)+`L${x(0.36)} ${y(1)}L${x(0.36)} ${y(2.6)}Z`,fill:'#2e8bc0'},'bcc-region');
  const fcc=fccPhi.map((p,i)=>[x(p),y(fccKappa[i])]);
  mk(g,'path',{d:smooth(fcc)+'Z',fill:'#72b87f'},'fcc-region');
  phiTicks.forEach((t,i)=>{
    seg(g,x(t),501,x(t),486,'#333',1.6,'x-tick-major-'+phiTickLabels[i]);
    label(g,x(t),534,phiTickLabels[i],'middle',25,'x-tick-label-'+phiTickLabels[i]);
  });
  phiMinorTicks.forEach((t,i)=>seg(g,x(t),501,x(t),492,'#333',1.6,'x-tick-minor-'+i));
  kappaTicks.forEach(t=>{
    seg(g,90,y(t),104,y(t),'#333',1.6,'y-tick-'+t);
    label(g,78,y(t)+9,String(t),'end',25,'y-tick-label-'+t);
  });
  mk(g,'rect',{x:90,y:53,width:533,height:448,fill:'none',stroke:'#111','stroke-width':1.6},'plot-frame');
  fluidPhi.forEach((p,i)=>marker(g,'circle',x(p),y(fluidKappa[i]),10.5,'#fff','#e2571e',4,'fluid-point-'+i));
  fccPointPhi.forEach((p,i)=>marker(g,'diamond',x(p),y(fccPointKappa[i]),15,'#fff','#e2571e',4,'fcc-point-'+i));
  bccPointPhi.forEach((p,i)=>marker(g,'square',x(p),y(bccPointKappa[i]),9,'#fff','#e2571e',4,'bcc-point-'+i));
  crossPhi.forEach((p,i)=>label(g,x(p),y(crossKappa[i])+9,'X','middle',26,'experiment-cross-'+i,'#000'));
})();

/* ---------- panel b ---------- */
(function(){
  const g=$('b-marks');
  const x=linear(0,0.3,790,1302),y=linear(0,0.6,504,55);
  const rect={x0:Math.round(x(0.0424)/2)*2,x1:Math.round(x(0.2558)/2)*2,y0:Math.round(y(0.4943)/2)*2,y1:Math.round(y(0.0925)/2)*2};
  renderField('density',g,densityGrid,densityColors,rect,21,19,0.15,7,true,0.1);
  const cbH=(272-74)/15;
  densityColors.slice(1).forEach((c,i)=>mk(g,'rect',{x:1212.5,y:74+i*cbH,width:30.5,height:cbH+0.5,fill:c},'density-colorbar-band-'+i));
  densityLabels.forEach((t,i)=>label(g,1251.5,80+i*47,t,'start',17,'density-colorbar-label-'+i,'#fff'));
  laTicks.forEach((t,i)=>label(g,x(t),537,laTickLabels[i],'middle',25,'x-tick-label-'+laTickLabels[i]));
  q6Ticks.forEach((t,i)=>label(g,776,y(t)+9,q6TickLabels[i],'end',25,'y-tick-label-'+q6TickLabels[i]));
  arrow(g,936,109,936,141,'#fff','solid-arrow');
  arrow(g,933,347,950,318,'#fff','layered-interface-arrow');
  arrow(g,1117,470,1117,438,'#fff','unlayered-liquid-arrow');
})();

/* ---------- panel c ---------- */
(function(){
  const g=$('c-marks');
  const x=linear(0,1,1523.5,2093.8),y=linear(0,-3,68.4,402.5);
  const blue='#3d4e96',green='#1fa56b',orange='#ec6a3d';
  const frameL=1495,frameR=2121,frameT=46,frameB=499;
  seg(g,frameL,frameT,frameR,frameT,'#666',2,'plot-frame-top');
  seg(g,frameL,frameT,frameL,frameB,'#666',2,'plot-frame-left');
  seg(g,frameL,frameB,frameR,frameB,'#666',2,'plot-frame-bottom');
  tempTicks.forEach((t,i)=>{
    seg(g,x(t),frameB,x(t),frameB+11,'#444',1.6,'x-tick-'+tempTickLabels[i]);
    label(g,x(t),542,tempTickLabels[i],'middle',25,'x-tick-label-'+tempTickLabels[i]);
  });
  logSpeedTicks.forEach(d=>{
    seg(g,frameL-9,y(d),frameL,y(d),'#444',1.6,'y-tick-major-'+d);
    const t=label(g,1472,y(d)+9,'10','end',26,'y-tick-label-'+d);
    const s=document.createElementNS(NS,'tspan');
    s.setAttribute('font-size','18');s.setAttribute('dy','-10');
    
    
    s.textContent=d===0?'0':'−'+(-d);t.appendChild(s);
  });
  [0,-1,-2,-3,-4].forEach(d=>{
    for(let k=2;k<10;k++){
      const v=d+Math.log10(k),py=y(v);
      if(py>frameT&&py<frameB&&d<0) seg(g,frameL-6,py,frameL,py,'#444',1.4,'y-tick-minor-'+d+'-'+k);
    }
  });
  [blue,green,orange].forEach((c,i)=>{
    const py=y(Math.log10(soundSpeeds[i]));
    seg(g,x(-0.003),py,x(1.004),py,c,2.6,'speed-of-sound-line-'+i);
  });
  const fit=(T,L,c,name)=>mk(g,'path',{d:'M'+T.map((t,i)=>x(t)+' '+y(L[i])).join('L'),fill:'none',stroke:c,'stroke-width':2.8,'stroke-dasharray':'9 5'},name);
  fit(blueFitT,blueFitLog,blue,'fit-curve-blue');
  fit(greenFitT,greenFitLog,green,'fit-curve-green');
  fit(orangeFitT,orangeFitLog,orange,'fit-curve-orange');
  const pts=(T,L,E,c,h,name)=>T.forEach((t,i)=>{
    const px=x(t),py=y(L[i]),hi=y(L[i]+E[i]),lo=y(L[i]-E[i]);
    seg(g,px,hi,px,lo,c,2,name+'-error-'+i);
    seg(g,px-9,hi,px+9,hi,c,2,name+'-cap-high-'+i);
    seg(g,px-9,lo,px+9,lo,c,2,name+'-cap-low-'+i);
    mk(g,'rect',{x:px-4.5,y:py-h/2,width:9,height:h,fill:c},name+'-point-'+i);
  });
  pts(blueT,blueLogV,blueErr,blue,5,'growth-kappa-2');
  pts(greenT,greenLogV,greenErr,green,5,'growth-kappa-3');
  pts(orangeT,orangeLogV,orangeErr,orange,10,'growth-kappa-5');
})();

/* ---------- panels e and f ---------- */
function drawStack(g,x,left,right,subplots,verticals,zBaseline,labelX){
  subplots.forEach(sp=>{
    mk(g,'rect',{x:left,y:sp.top,width:right-left,height:sp.bottom-sp.top,fill:'none',stroke:'#666','stroke-width':1.8},sp.name+'-frame');
    sp.ticks.forEach((t,i)=>{
      seg(g,left,sp.y(t),left+10,sp.y(t),'#444',1.5,sp.name+'-y-tick-'+i);
      label(g,labelX,sp.y(t)+9,sp.labels[i],'end',26,sp.name+'-y-tick-label-'+i);
    });
    sp.minor.forEach((t,i)=>seg(g,left,sp.y(t),left+6,sp.y(t),'#444',1.5,sp.name+'-y-minor-tick-'+i));
    layerZ.forEach(z=>{
      const L=z%5===0?10:6;
      seg(g,x(z),sp.bottom,x(z),sp.bottom-L,'#444',1.5,sp.name+'-x-tick-'+z);
    });
    if(sp.curve){
      mk(g,'path',{d:'M'+sp.curve[0].map((z,i)=>x(z)+' '+sp.y(sp.curve[1][i])).join('L'),fill:'none',stroke:'#000','stroke-width':2.4},sp.name+'-line');
    }else{
      mk(g,'path',{d:'M'+layerZ.map((z,i)=>x(z)+' '+sp.y(sp.values[i])).join('L'),fill:'none',stroke:sp.color,'stroke-width':2.8,'stroke-dasharray':'9 5'},sp.name+'-line');
      layerZ.forEach((z,i)=>marker(g,sp.kind,x(z),sp.y(sp.values[i]),sp.size,sp.color,'#f2c8c0',0.6,sp.name+'-point-'+z));
    }
    seg(g,sp.legend[0],sp.legend[2],sp.legend[1],sp.legend[2],sp.curve?'#000':sp.color,3,sp.name+'-legend-line');
    if(!sp.curve) marker(g,sp.kind,(sp.legend[0]+sp.legend[1])/2,sp.legend[2],sp.size,sp.color,'none',0,sp.name+'-legend-marker');
  });
  const top=subplots[0].top,bottom=subplots[subplots.length-1].bottom;
  mk(g,'line',{x1:x(verticals[0]),y1:top+2,x2:x(verticals[0]),y2:bottom,stroke:'#777','stroke-width':4.6,opacity:0.78},'layered-boundary-line');
  mk(g,'line',{x1:x(verticals[1]),y1:top+2,x2:x(verticals[1]),y2:bottom,stroke:'#777','stroke-width':3.6,'stroke-dasharray':'27 16',opacity:0.85},'unlayered-boundary-line');
  zTicks.forEach((t,i)=>label(g,x(t),zBaseline,zTickLabels[i],'middle',26,'z-tick-label-'+zTickLabels[i]));
}
drawStack($('e-marks'),linear(0,20,796,1302),796,1340,[
  {name:'nz-plot',top:698,bottom:871,y:linear(0,15,871,698),ticks:nzTicks,labels:nzTickLabels,minor:nzMinor,curve:[nzZ,nzN],legend:[1196,1239,722]},
  {name:'la-plot',top:871,bottom:1044,y:linear(0.1,0.2,974,905),ticks:laSeriesTicks,labels:laSeriesLabels,minor:laMinor,values:laValues,color:'#dd2c26',kind:'square',size:6.6,legend:[1192,1236,928]},
  {name:'q6-plot',top:1044,bottom:1215,y:linear(0.2,0.4,1187,1072),ticks:q6SeriesTicks,labels:q6SeriesLabels,minor:q6Minor,values:q6Values,color:'#24499e',kind:'circle',size:7,legend:[1188,1233,1083]}
],[3.05,6.85],1249,784);
drawStack($('f-marks'),linear(0,20,1535.5,2041),1535.5,2079,[
  {name:'f-layered-plot',top:695,bottom:868,y:linear(0,1,854,721.5),ticks:fracTicks,labels:fracTickLabels,minor:fracMinor,values:fLayered,color:'#000000',kind:'square',size:6.6,legend:[1935,1980,729]},
  {name:'f-unlayered-plot',top:868,bottom:1040,y:linear(0,1,1027,894.5),ticks:fracTicks,labels:fracTickLabels,minor:fracMinor,values:fUnlayered,color:'#dd2c26',kind:'circle',size:7,legend:[1929,1974,940]},
  {name:'f-ico-plot',top:1040,bottom:1213,y:linear(0,0.4,1206,1058.6),ticks:icoTicks,labels:icoTickLabels,minor:icoMinor,values:fIco,color:'#74197c',kind:'pentagon',size:8,legend:[1924,1968,1111]}
],[3.02,6.98],1247,1522);

/* ---------- heatmaps ---------- */
(function(){
  const g=$('d-marks');
  renderField('roughness',g,roughnessLevels,bandD,{x0:42,x1:644,y0:687,y1:1219},30.13,26.98,0.22,10,false,0.25);
  colorbar('roughness',g,dBandEdges,bandD,dTickValues,dTickLabels,192.5,535.5,1235,1250.5,1283);
  axisArrows('roughness',g,20.4,1248,1177,88);
})();
(function(){
  const g=$('g-marks');
  renderField('la-map',g,laLevels,bandG,{x0:30,x1:642,y0:1389,y1:1929},29.8,26.85,0.32,14,false,0.25);
  colorbar('la-map',g,gBandEdges,bandG,gTickValues,gTickLabels,166,510,1955,1972,2002);
  axisArrows('la-map',g,8,1956.5,1886,76);
})();
function particles(prefix,g,clip,x,y){
  const c=mk(g,'g',{'clip-path':`url(#${clip})`},prefix+'-particles');
  interfaceParticles.forEach((p,i)=>mk(c,'circle',{cx:x(p[0]),cy:y(p[1]),r:6.9,fill:'#fff',stroke:'#bdbdbd','stroke-width':1},prefix+'-particle-'+i));
}
(function(){
  const g=$('h-marks');
  renderField('v-perp',g,vPerpLevels,bandV,{x0:769,x1:1381,y0:1384,y1:1922},29.8,26.8,0.2,6,false,0.25);
  particles('v-perp',g,'clip-h',linear(109,1480,769,1381),linear(146,1379,1384,1922));
  colorbar('v-perp',g,hBandEdges,bandV,hTickValues,hTickLabels,877,1219.5,1951,1970.5,2003);
  axisArrows('v-perp',g,747,1955.5,1884,815);
})();
(function(){
  const g=$('i-marks');
  renderField('v-par',g,vParallelLevels,bandV,{x0:1491,x1:2101,y0:1387,y1:1925},29.72,26.76,0.24,10,false,0.25);
  particles('v-par',g,'clip-i',linear(109,1480,1490,2102),linear(146,1379,1386.8,1925.5));
  colorbar('v-par',g,iBandEdges,bandV,iTickValues,iTickLabels,1586,1962,1949.5,1966.5,1994);
  axisArrows('v-par',g,1466,1967.5,1896,1534);
})();
</script>
</body>
</html>
